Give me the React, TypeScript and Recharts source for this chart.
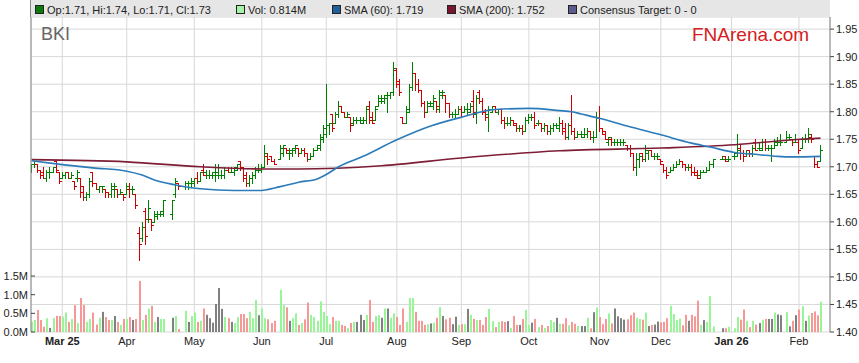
import React from "react";
import { ComposedChart, Bar, Line, XAxis, YAxis, CartesianGrid } from "recharts";

// one row per weekday: open, high, low, close, volume (M); null = market holiday
type Row = [number, number, number, number, number] | null;

const prevClose = 1.7;

const feb25: Row[] = [
  [1.695, 1.705, 1.69, 1.705, 0.28], [1.705, 1.71, 1.7, 1.71, 0.32], [1.705, 1.705, 1.69, 1.695, 0.59],
  [1.695, 1.695, 1.68, 1.685, 0.32], [1.69, 1.7, 1.68, 1.68, 0.14], [1.68, 1.695, 1.675, 1.69, 0.37],
  [1.69, 1.7, 1.68, 1.69, 0.11], [1.69, 1.7, 1.69, 1.7, 0.37], [1.71, 1.71, 1.69, 1.695, 0.43],
  [1.69, 1.69, 1.67, 1.675, 0.43],
];
const mar25: Row[] = [
  [1.68, 1.69, 1.68, 1.685, 0.41], [1.685, 1.69, 1.68, 1.69, 0.52], [1.69, 1.69, 1.68, 1.68, 0.27],
  [1.68, 1.69, 1.68, 1.685, 0.35], [1.675, 1.675, 1.66, 1.665, 0.72], [1.68, 1.695, 1.675, 1.69, 0.24],
  [1.68, 1.68, 1.645, 1.655, 0.91], [1.665, 1.665, 1.64, 1.645, 0.72], [1.645, 1.655, 1.64, 1.65, 0.27],
  [1.65, 1.68, 1.645, 1.675, 0.35], [1.69, 1.69, 1.665, 1.67, 0.52], [1.67, 1.67, 1.66, 1.66, 0.2],
  [1.66, 1.665, 1.655, 1.665, 0.38], [1.665, 1.665, 1.655, 1.665, 0.54], [1.66, 1.66, 1.645, 1.655, 0.4],
  [1.655, 1.655, 1.645, 1.65, 0.32], [1.65, 1.67, 1.645, 1.665, 0.32], [1.66, 1.67, 1.645, 1.665, 0.43],
  [1.66, 1.66, 1.645, 1.65, 0.27], [1.65, 1.66, 1.65, 1.655, 0.19], [1.65, 1.65, 1.64, 1.645, 0.35],
];
const apr25: Row[] = [
  [1.65, 1.67, 1.65, 1.665, 0.35], [1.66, 1.67, 1.645, 1.66, 0.4], [1.66, 1.665, 1.65, 1.66, 0.32],
  [1.65, 1.65, 1.625, 1.63, 0.35], [1.58, 1.59, 1.53, 1.56, 1.37], [1.57, 1.6, 1.565, 1.59, 0.32],
  [1.62, 1.625, 1.56, 1.575, 0.46], [1.605, 1.64, 1.6, 1.625, 0.63], [1.605, 1.605, 1.585, 1.595, 0.7],
  [1.6, 1.62, 1.6, 1.615, 0.27], [1.61, 1.62, 1.605, 1.615, 0.4], [1.615, 1.62, 1.61, 1.62, 0.35],
  [1.615, 1.64, 1.61, 1.64, 0.35], null, null,
  [1.615, 1.64, 1.605, 1.64, 0.38], [1.65, 1.68, 1.645, 1.675, 0.43], [1.67, 1.67, 1.66, 1.665, 0.08],
  null, [1.665, 1.675, 1.66, 1.67, 0.57], [1.67, 1.675, 1.66, 1.67, 0.27],
  [1.67, 1.68, 1.665, 1.675, 0.43],
];
const may25: Row[] = [
  [1.67, 1.68, 1.665, 1.68, 0.52], [1.68, 1.69, 1.67, 1.675, 0.27], [1.675, 1.69, 1.675, 1.69, 0.3],
  [1.695, 1.705, 1.685, 1.685, 0.63], [1.69, 1.695, 1.68, 1.685, 0.46], [1.685, 1.695, 1.68, 1.685, 0.37],
  [1.685, 1.69, 1.68, 1.685, 0.25], [1.69, 1.705, 1.675, 1.685, 0.75], [1.69, 1.705, 1.68, 1.685, 1.18],
  [1.685, 1.695, 1.68, 1.685, 0.62], [1.685, 1.7, 1.68, 1.695, 0.4], [1.695, 1.7, 1.69, 1.69, 0.37],
  [1.69, 1.7, 1.69, 1.69, 0.27], [1.69, 1.7, 1.685, 1.7, 0.24], [1.695, 1.705, 1.695, 1.705, 0.4],
  [1.71, 1.71, 1.695, 1.7, 0.48], [1.7, 1.7, 1.675, 1.68, 0.48], [1.685, 1.69, 1.665, 1.67, 0.37],
  [1.67, 1.685, 1.665, 1.68, 0.54], [1.68, 1.69, 1.67, 1.685, 0.37], [1.685, 1.7, 1.68, 1.695, 0.86],
  [1.695, 1.705, 1.69, 1.695, 0.45],
];
const jun25: Row[] = [
  [1.695, 1.705, 1.69, 1.7, 0.63], [1.7, 1.74, 1.7, 1.725, 0.37], [1.72, 1.725, 1.705, 1.715, 0.34],
  [1.72, 1.72, 1.71, 1.71, 0.24], [1.71, 1.715, 1.705, 1.705, 0.3], null,
  [1.715, 1.74, 1.715, 1.735, 1.13], [1.725, 1.74, 1.72, 1.74, 0.72], [1.735, 1.735, 1.725, 1.73, 0.66],
  [1.725, 1.735, 1.715, 1.73, 0.3], [1.725, 1.735, 1.72, 1.735, 0.37], [1.73, 1.74, 1.725, 1.74, 0.5],
  [1.735, 1.735, 1.72, 1.725, 0.19], [1.725, 1.735, 1.725, 1.73, 0.24], [1.73, 1.735, 1.72, 1.725, 0.34],
  [1.725, 1.725, 1.71, 1.715, 0.79], [1.715, 1.725, 1.715, 1.72, 0.46], [1.72, 1.735, 1.72, 1.73, 0.4],
  [1.73, 1.74, 1.73, 1.74, 0.3], [1.735, 1.76, 1.73, 1.755, 0.82], [1.75, 1.775, 1.745, 1.77, 0.54],
];
const jul25: Row[] = [
  [1.76, 1.85, 1.755, 1.775, 0.43], [1.775, 1.78, 1.76, 1.78, 0.21], [1.795, 1.795, 1.765, 1.77, 0.4],
  [1.78, 1.8, 1.78, 1.795, 0.3], [1.795, 1.82, 1.79, 1.81, 0.3], [1.81, 1.81, 1.8, 1.8, 0.19],
  [1.8, 1.8, 1.79, 1.79, 0.16], [1.79, 1.8, 1.79, 1.795, 0.11], [1.79, 1.79, 1.765, 1.775, 0.24],
  [1.78, 1.79, 1.775, 1.785, 0.27], [1.785, 1.79, 1.78, 1.785, 0.27], [1.785, 1.79, 1.78, 1.785, 0.46],
  [1.78, 1.79, 1.78, 1.785, 0.32], [1.785, 1.81, 1.78, 1.805, 0.46], [1.81, 1.82, 1.78, 1.785, 0.86],
  [1.79, 1.8, 1.78, 1.78, 0.27], [1.785, 1.81, 1.785, 1.805, 0.43], [1.81, 1.83, 1.81, 1.825, 0.45],
  [1.82, 1.83, 1.815, 1.825, 0.38], [1.82, 1.83, 1.815, 1.83, 0.63], [1.825, 1.835, 1.8, 1.83, 0.63],
  [1.83, 1.835, 1.825, 1.835, 0.38], [1.835, 1.89, 1.83, 1.88, 0.5],
];
const aug25: Row[] = [
  [1.875, 1.88, 1.845, 1.85, 0.4], [1.855, 1.86, 1.83, 1.835, 0.19], [1.79, 1.79, 1.78, 1.78, 0.63],
  [1.78, 1.81, 1.78, 1.8, 0.27], [1.805, 1.85, 1.8, 1.845, 0.91], [1.845, 1.89, 1.84, 1.87, 0.91],
  [1.87, 1.87, 1.84, 1.85, 0.54], [1.85, 1.86, 1.835, 1.84, 0.3], [1.84, 1.84, 1.81, 1.815, 0.3],
  [1.815, 1.82, 1.79, 1.8, 0.19], [1.8, 1.82, 1.8, 1.815, 0.21], [1.81, 1.82, 1.81, 1.815, 0.23],
  [1.81, 1.83, 1.805, 1.825, 0.25], [1.82, 1.82, 1.8, 1.81, 0.38], [1.805, 1.84, 1.8, 1.835, 0.67],
  [1.83, 1.84, 1.825, 1.835, 0.43], [1.83, 1.83, 1.8, 1.815, 0.34], [1.815, 1.815, 1.79, 1.795, 0.38],
  [1.795, 1.8, 1.79, 1.795, 0.21], [1.795, 1.805, 1.79, 1.795, 0.41], [1.795, 1.81, 1.795, 1.805, 0.19],
];
const sep25: Row[] = [
  [1.805, 1.81, 1.79, 1.8, 0.21], [1.8, 1.81, 1.8, 1.805, 0.21], [1.805, 1.815, 1.795, 1.805, 0.62],
  [1.8, 1.815, 1.8, 1.81, 0.46], [1.82, 1.84, 1.79, 1.8, 0.35], [1.795, 1.83, 1.78, 1.825, 0.32],
  [1.835, 1.84, 1.815, 1.82, 0.32], [1.82, 1.825, 1.795, 1.8, 0.19], [1.8, 1.805, 1.785, 1.79, 0.4],
  [1.795, 1.81, 1.765, 1.805, 0.62], [1.8, 1.81, 1.8, 1.81, 0.29], [1.81, 1.81, 1.8, 1.8, 0.13],
  [1.8, 1.805, 1.795, 1.805, 0.27], [1.805, 1.805, 1.78, 1.785, 0.29], [1.785, 1.79, 1.77, 1.78, 0.27],
  [1.78, 1.79, 1.775, 1.78, 0.29], [1.78, 1.79, 1.775, 1.785, 0.11], [1.785, 1.785, 1.775, 1.775, 0.43],
  [1.78, 1.78, 1.765, 1.77, 0.19], [1.77, 1.775, 1.765, 1.77, 0.19], [1.77, 1.775, 1.76, 1.765, 0.35],
  [1.765, 1.79, 1.765, 1.785, 0.59],
];
const oct25: Row[] = [
  [1.785, 1.795, 1.78, 1.79, 0.19], [1.79, 1.795, 1.785, 1.79, 0.25], [1.79, 1.8, 1.77, 1.775, 0.35],
  [1.78, 1.785, 1.775, 1.78, 0.13], [1.78, 1.78, 1.765, 1.77, 0.19], [1.77, 1.78, 1.765, 1.775, 0.11],
  [1.775, 1.775, 1.76, 1.765, 0.16], [1.765, 1.775, 1.76, 1.77, 0.32], [1.77, 1.78, 1.765, 1.775, 0.27],
  [1.775, 1.78, 1.77, 1.775, 0.38], [1.77, 1.79, 1.765, 1.78, 0.22], [1.78, 1.785, 1.76, 1.765, 0.22],
  [1.77, 1.78, 1.75, 1.755, 0.37], [1.755, 1.78, 1.75, 1.775, 0.18], [1.775, 1.83, 1.76, 1.765, 0.27],
  [1.765, 1.77, 1.75, 1.755, 0.22], [1.755, 1.765, 1.755, 1.76, 0.16], [1.76, 1.765, 1.755, 1.76, 0.16],
  [1.755, 1.77, 1.755, 1.76, 0.16], [1.76, 1.77, 1.755, 1.765, 0.38], [1.765, 1.765, 1.75, 1.755, 0.1],
  [1.755, 1.765, 1.745, 1.755, 0.53], [1.755, 1.8, 1.755, 1.79, 0.66],
];
const nov25: Row[] = [
  [1.79, 1.81, 1.765, 1.77, 0.4], [1.77, 1.77, 1.76, 1.765, 0.21], [1.76, 1.765, 1.75, 1.75, 0.35],
  [1.745, 1.755, 1.74, 1.755, 0.5], [1.75, 1.755, 1.74, 1.745, 0.23], [1.745, 1.75, 1.74, 1.745, 0.63],
  [1.745, 1.75, 1.74, 1.745, 0.42], [1.745, 1.75, 1.74, 1.745, 0.37], [1.745, 1.75, 1.74, 1.745, 0.33],
  [1.74, 1.74, 1.73, 1.735, 0.34], [1.735, 1.74, 1.72, 1.725, 0.45], [1.725, 1.725, 1.695, 1.7, 0.52],
  [1.7, 1.725, 1.685, 1.715, 0.38], [1.715, 1.725, 1.7, 1.72, 0.35], [1.725, 1.725, 1.71, 1.715, 0.33],
  [1.715, 1.74, 1.71, 1.73, 0.52], [1.725, 1.73, 1.715, 1.73, 0.16], [1.73, 1.73, 1.72, 1.72, 0.19],
  [1.72, 1.725, 1.715, 1.72, 0.2], [1.72, 1.725, 1.715, 1.72, 0.28],
];
const dec25: Row[] = [
  [1.715, 1.715, 1.705, 1.71, 0.26], [1.705, 1.705, 1.69, 1.695, 0.27], [1.695, 1.7, 1.68, 1.685, 0.37],
  [1.69, 1.7, 1.69, 1.695, 0.7], [1.695, 1.705, 1.695, 1.7, 0.48], [1.7, 1.71, 1.7, 1.705, 0.32],
  [1.705, 1.715, 1.705, 1.71, 0.36], [1.71, 1.71, 1.7, 1.705, 0.18], [1.705, 1.705, 1.695, 1.7, 0.46],
  [1.7, 1.705, 1.695, 1.7, 0.3], [1.7, 1.705, 1.685, 1.69, 0.46], [1.69, 1.7, 1.685, 1.685, 0.42],
  [1.69, 1.695, 1.68, 1.68, 0.84], [1.685, 1.695, 1.68, 1.69, 0.19], [1.69, 1.695, 1.69, 1.69, 0.32],
  [1.69, 1.7, 1.69, 1.695, 0.27], [1.695, 1.71, 1.695, 1.705, 0.96], [1.705, 1.715, 1.7, 1.715, 0.15],
  null, null,
  [1.715, 1.72, 1.715, 1.715, 0.1], [1.72, 1.72, 1.71, 1.71, 0.1], [1.715, 1.72, 1.71, 1.715, 0.14],
];
const jan26: Row[] = [
  null,
  [1.72, 1.725, 1.715, 1.72, 0.1], [1.725, 1.76, 1.72, 1.73, 0.4], [1.735, 1.74, 1.715, 1.725, 0.33],
  [1.725, 1.73, 1.71, 1.72, 0.6], [1.725, 1.73, 1.72, 1.73, 0.3], [1.73, 1.73, 1.72, 1.725, 0.13],
  [1.725, 1.74, 1.72, 1.735, 0.3], [1.745, 1.75, 1.73, 1.73, 0.2], [1.735, 1.745, 1.73, 1.73, 0.24],
  [1.735, 1.75, 1.73, 1.745, 0.33], [1.745, 1.75, 1.73, 1.735, 0.35], [1.735, 1.74, 1.73, 1.735, 0.35],
  [1.735, 1.74, 1.71, 1.735, 0.35], [1.735, 1.75, 1.735, 1.745, 0.52], [1.74, 1.755, 1.74, 1.745, 0.47],
  [1.745, 1.76, 1.74, 1.745, 0.45],
  null,
  [1.745, 1.765, 1.745, 1.755, 0.53], [1.755, 1.76, 1.75, 1.755, 0.15], [1.75, 1.75, 1.74, 1.745, 0.3],
  [1.745, 1.76, 1.745, 1.745, 0.45],
];
const feb26: Row[] = [
  [1.745, 1.75, 1.725, 1.73, 0.6], [1.735, 1.755, 1.735, 1.75, 0.69], [1.75, 1.76, 1.745, 1.75, 0.3],
  [1.75, 1.77, 1.745, 1.76, 0.44], [1.755, 1.76, 1.745, 1.75, 0.51], [1.72, 1.72, 1.7, 1.705, 0.55],
  [1.705, 1.71, 1.7, 1.7, 0.45], [1.71, 1.74, 1.71, 1.73, 0.814],
];

const months = [feb25, mar25, apr25, may25, jun25, jul25, aug25, sep25, oct25, nov25, dec25, jan26, feb26];

// moving averages at a few bars
const sma60Idx = [0, 10, 20, 31, 36, 40, 47, 52, 55, 66, 74, 81, 87, 93, 96, 100, 108, 119, 130, 140, 151, 162, 172, 176, 179, 185, 194, 205, 215, 221, 229, 237, 243, 248, 257];
const sma60Vals = [1.711, 1.704, 1.698, 1.692, 1.685, 1.676, 1.667, 1.662, 1.66, 1.657, 1.657, 1.664, 1.672, 1.678, 1.686, 1.7, 1.719, 1.749, 1.774, 1.79, 1.804, 1.806, 1.802, 1.8, 1.796, 1.788, 1.774, 1.758, 1.743, 1.736, 1.726, 1.722, 1.719, 1.718, 1.719];
const sma200Idx = [0, 31, 55, 76, 87, 114, 140, 172, 205, 229, 248, 257];
const sma200Vals = [1.713, 1.709, 1.7, 1.696, 1.696, 1.702, 1.716, 1.729, 1.734, 1.74, 1.749, 1.752];

const monthTicks = [10, 31, 53, 75, 96, 119, 140, 162, 185, 205, 228, 250];
const monthLabels = ["Mar 25", "Apr", "May", "Jun", "Jul", "Aug", "Sep", "Oct", "Nov", "Dec", "Jan 26", "Feb"];
const yearLabels = ["Mar 25", "Jan 26"];
const priceTicks = [1.4, 1.45, 1.5, 1.55, 1.6, 1.65, 1.7, 1.75, 1.8, 1.85, 1.9, 1.95];
const volTicks = [0, 0.5, 1, 1.5];

const GREEN = "#008000";
const RED = "#d00000";
const VOL_UP = "#98f598";
const VOL_DOWN = "#f79898";
const VOL_FLAT = "#808080";
const SMA60_COLOR = "#2b7bba";
const SMA200_COLOR = "#7d1d36";
const PLOT_LEFT = 31;

const rows = months.flat();
let lastClose = prevClose;
const data: any[] = rows.map((r, i) => {
  const point: any = { i };
  if (r) {
    const [o, h, l, c, v] = r;
    point.o = o; point.h = h; point.l = l; point.c = c; point.v = v;
    point.range = [l, h];
    point.dir = c > lastClose ? 1 : c < lastClose ? -1 : 0;
    lastClose = c;
  }
  return point;
});
sma60Idx.forEach((k, j) => { data[k].sma60 = sma60Vals[j]; });
sma200Idx.forEach((k, j) => { data[k].sma200 = sma200Vals[j]; });

const last = data[data.length - 1];

const OhlcShape = (props: any) => {
  const { x, y, width, height, payload } = props;
  if (!payload || payload.o == null) return null;
  const top = Math.min(y, y + height);
  const h = Math.abs(height);
  const cx = Math.floor(x + width / 2) + 0.5;
  const span = payload.h - payload.l;
  const toY = (v: number) => Math.round(span === 0 ? top : top + ((payload.h - v) / span) * h) + 0.5;
  const color = payload.dir < 0 ? RED : GREEN;
  return (
    <g stroke={color} strokeWidth={1}>
      <line x1={cx} x2={cx} y1={Math.round(top)} y2={Math.round(top + h) + 1} />
      <line x1={cx - 2.5} x2={cx} y1={toY(payload.o)} y2={toY(payload.o)} />
      <line x1={cx} x2={cx + 2.5} y1={toY(payload.c)} y2={toY(payload.c)} />
    </g>
  );
};

const VolShape = (props: any) => {
  const { x, y, width, height, payload } = props;
  if (!payload || payload.v == null) return null;
  const fill = payload.dir > 0 ? VOL_UP : payload.dir < 0 ? VOL_DOWN : VOL_FLAT;
  return <rect x={Math.round(x + width / 2) - 1} y={y} width={2} height={height} fill={fill} />;
};

const MonthTick = ({ x, y, payload }: any) => {
  const label = monthLabels[monthTicks.indexOf(payload.value)];
  return (
    <text x={x} y={y + 11} textAnchor="middle" fontSize={11} fill="#222"
      fontWeight={yearLabels.includes(label) ? "bold" : "normal"}>
      {label}
    </text>
  );
};

const VolTick = ({ y, payload }: any) => (
  <g>
    <line x1={PLOT_LEFT} x2={PLOT_LEFT + 4} y1={y} y2={y} stroke="#444" />
    <text x={28} y={y + 4} textAnchor="end" fontSize={11} fill="#222">
      {payload.value.toFixed(1)}M
    </text>
  </g>
);

const legendItems = [
  { x: 35, color: "#0a7a0a", text: `Op:${last.o.toFixed(2)}, Hi:${last.h.toFixed(2)}, Lo:${last.l.toFixed(2)}, Cl:${last.c.toFixed(2)}` },
  { x: 236, color: "#a6f2a6", text: `Vol: ${last.v.toFixed(3)}M` },
  { x: 332, color: "#1f5f9c", text: `SMA (60): ${sma60Vals[sma60Vals.length - 1].toFixed(3)}` },
  { x: 447, color: "#7a1530", text: `SMA (200): ${sma200Vals[sma200Vals.length - 1].toFixed(3)}` },
  { x: 568, color: "#5c5c8c", text: "Consensus Target: 0 - 0" },
];

export default function App() {
  return (
    <div style={{ position: "absolute", left: 0, top: 0, width: 859, height: 363, background: "#fff", fontFamily: "'Liberation Sans', Arial, sans-serif" }}>
      <ComposedChart width={859} height={363} data={data} margin={{ top: 17, right: 0, bottom: 0, left: 0 }}>
        <XAxis xAxisId="p" dataKey="i" type="number" domain={[-0.2, 260.1]} allowDataOverflow
          ticks={monthTicks} interval={0} tickLine={false} axisLine={false} tickSize={0} height={31}
          tick={<MonthTick />} />
        <XAxis xAxisId="v" dataKey="i" type="number" domain={[-0.2, 260.1]} allowDataOverflow hide />
        <YAxis yAxisId="vol" orientation="left" domain={[0, 8.44]} ticks={volTicks} interval={0}
          width={31} tickSize={0} tickMargin={0} tickLine={false} axisLine={{ stroke: "#888" }} tick={<VolTick />} />
        <YAxis yAxisId="price" orientation="right" domain={[1.4, 1.972]} ticks={priceTicks} interval={0}
          width={29} tickSize={4} tickLine={{ stroke: "#444" }} axisLine={{ stroke: "#888" }}
          tick={{ fontSize: 11, fill: "#222" }} tickFormatter={(v: number) => v.toFixed(2)} />
        <CartesianGrid xAxisId="p" yAxisId="price" stroke="#d8d8d8" />
        <Bar xAxisId="v" yAxisId="vol" dataKey="v" barSize={2} shape={<VolShape />} isAnimationActive={false} />
        <Line xAxisId="p" yAxisId="price" dataKey="sma200" stroke={SMA200_COLOR} strokeWidth={1.6}
          dot={false} type="monotone" connectNulls isAnimationActive={false} />
        <Line xAxisId="p" yAxisId="price" dataKey="sma60" stroke={SMA60_COLOR} strokeWidth={1.6}
          dot={false} type="monotone" connectNulls isAnimationActive={false} />
        <Bar xAxisId="p" yAxisId="price" dataKey="range" barSize={3} shape={<OhlcShape />} isAnimationActive={false} />
      </ComposedChart>
      <svg width={859} height={363} style={{ position: "absolute", left: 0, top: 0, pointerEvents: "none" }}>
        <rect x={30} y={0} width={800} height={17} fill="#e6e6e6" />
        <line x1={30.5} x2={30.5} y1={0} y2={17} stroke="#888" />
        {legendItems.map((it) => (
          <g key={it.text}>
            <rect x={it.x + 0.5} y={5.5} width={8} height={8} fill={it.color} stroke="#222" />
            <text x={it.x + 12} y={13.5} fontSize={11} fill="#222">{it.text}</text>
          </g>
        ))}
        <text x={41} y={40} fontSize={18} fill="#666">BKI</text>
        <text x={692} y={41} fontSize={19} fill="#d42020">FNArena.com</text>
      </svg>
    </div>
  );
}
